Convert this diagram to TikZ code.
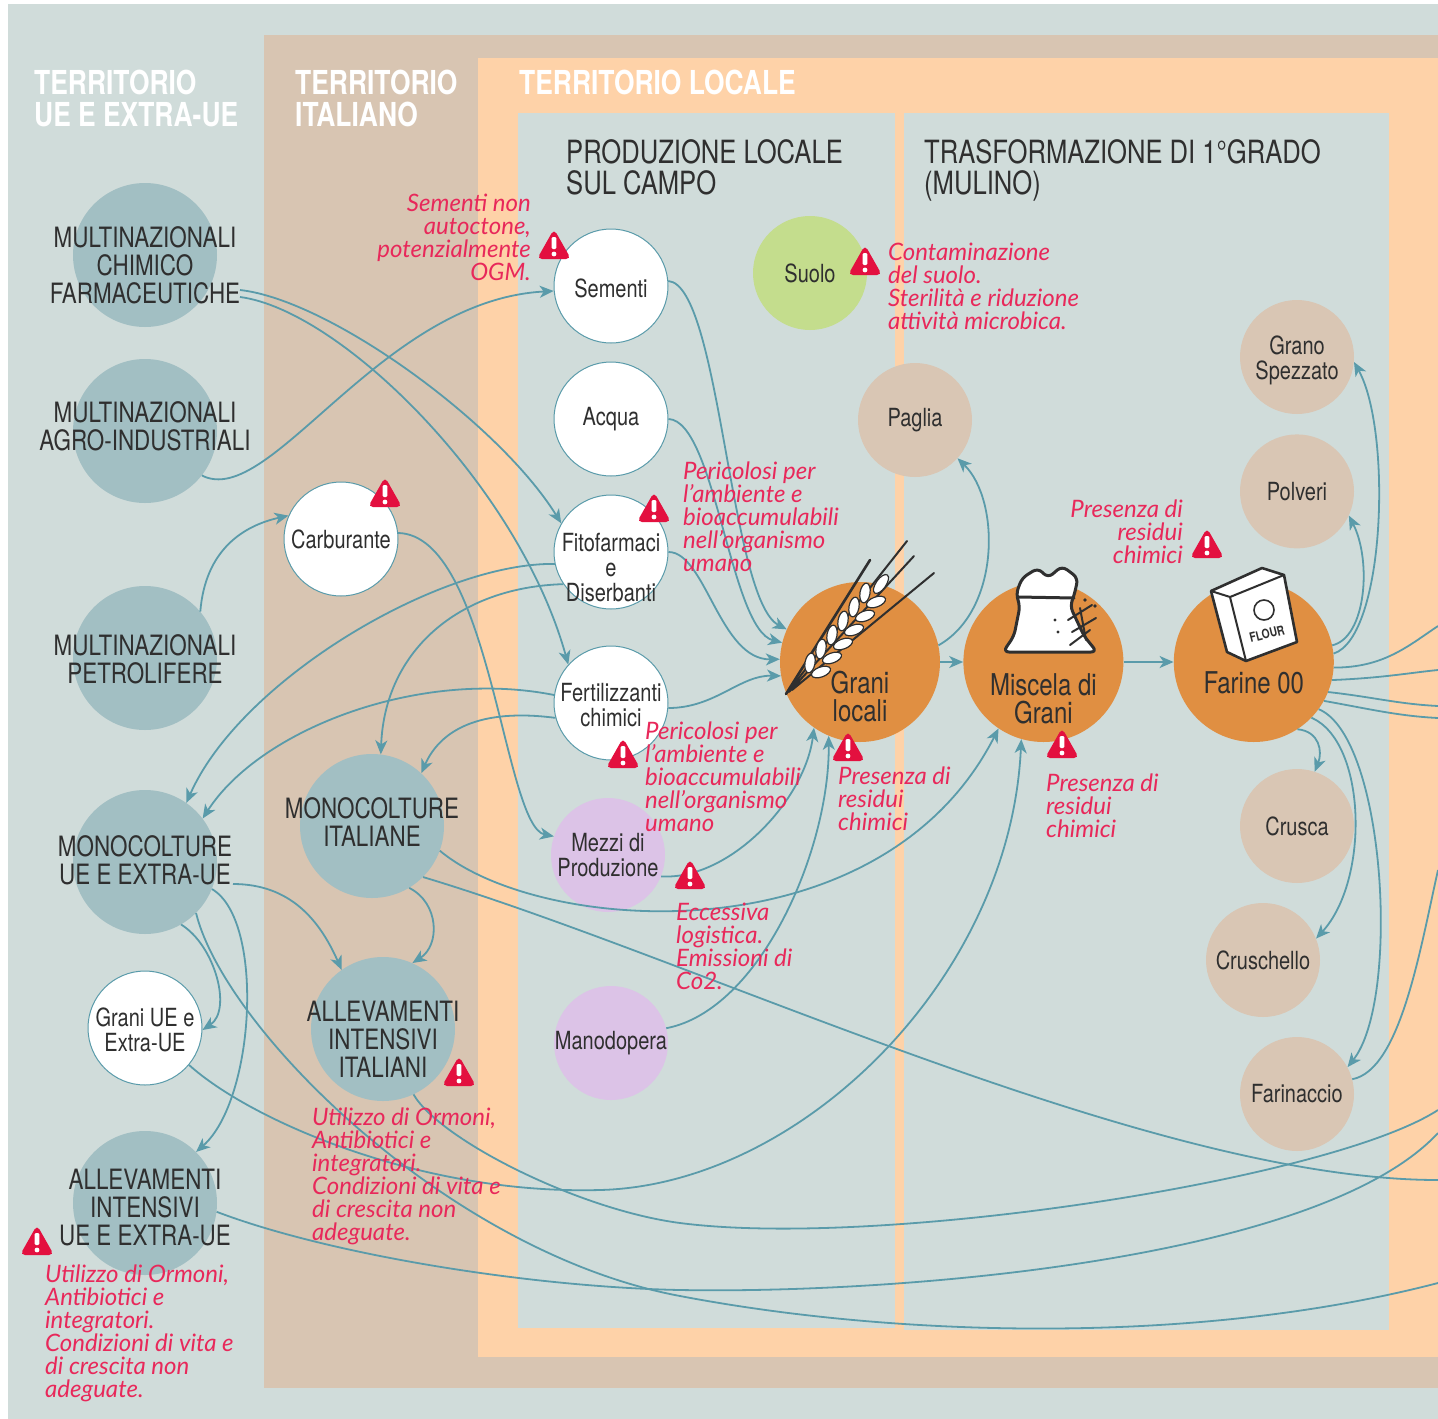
\documentclass[tikz,border=0pt]{standalone}
\usepackage{fontspec}
\usetikzlibrary{arrows.meta,positioning}
\newfontfamily\condfont{TeX Gyre Heros}[FakeStretch=0.8]
\newfontfamily\notefont{Lato}
\definecolor{paneblue}{HTML}{D0DCDA}
\definecolor{italytan}{HTML}{D8C5B2}
\definecolor{localpeach}{HTML}{FED2A8}
\definecolor{hubblue}{HTML}{A2BFC3}
\definecolor{inputpurple}{HTML}{DCC3E7}
\definecolor{soilgreen}{HTML}{C4DD8D}
\definecolor{bytan}{HTML}{D9C6B4}
\definecolor{mealorange}{HTML}{E08F42}
\definecolor{flowteal}{HTML}{5A9BAA}
\definecolor{alertred}{HTML}{E3103F}
\definecolor{notered}{HTML}{E8285A}
\definecolor{ink}{HTML}{2F2F2F}
\tikzset{
  warnsign/.pic={
    \fill[alertred, rounded corners=5pt] (-17,13) -- (0,-17) -- (17,13) -- cycle;
    \fill[white, rounded corners=1.2pt] (-2.3,-9) rectangle (2.3,3);
    \fill[white] (0,8) circle (2.4);
  }
}
\begin{document}
\begin{tikzpicture}[x=1pt, y=-1pt,
   disc/.style={circle, minimum size=114pt, inner sep=0pt},
   hub/.style={circle, minimum size=144pt, inner sep=0pt, fill=hubblue},
   meal/.style={circle, minimum size=160pt, inner sep=0pt, fill=mealorange},
   supply/.style={disc, fill=white, draw=flowteal, line width=1pt},
   labour/.style={disc, fill=inputpurple},
   byprod/.style={disc, fill=bytan},
   hubtxt/.style={font=\condfont\fontsize{28}{28}\selectfont, text=ink, align=center, inner sep=0pt},
   disctxt/.style={font=\condfont\fontsize{25}{25}\selectfont, text=ink, align=center, inner sep=0pt},
   mealtxt/.style={font=\condfont\fontsize{30}{28}\selectfont, text=ink, align=center, inner sep=0pt},
   zonetitle/.style={font=\condfont\bfseries\fontsize{33}{32}\selectfont, text=white, align=left,
      inner sep=0pt, anchor=north west},
   panetitle/.style={font=\condfont\fontsize{32}{31}\selectfont, text=ink, align=left,
      inner sep=0pt, anchor=north west},
   note/.style={font=\notefont\itshape\fontsize{24}{23}\selectfont, text=notered, align=left,
      inner sep=0pt, anchor=north west},
   flow/.style={draw=flowteal, line width=1.8pt, -{Stealth[length=14pt, width=12pt, inset=4pt]}},
   spill/.style={draw=flowteal, line width=1.8pt}
]
\fill[white] (0,0) rectangle (1438,1419);
\useasboundingbox (0,0) rectangle (1438,1419);

% territories
\fill[paneblue] (8,4) rectangle (1438,1419);
\fill[italytan] (264,35) rectangle (1438,1388);
\fill[localpeach] (478,58) rectangle (1438,1357);
\fill[paneblue] (518,113) rectangle (895,1328);
\fill[paneblue] (904,113) rectangle (1389,1330);

\node[zonetitle] (zoneworld) at (34,70) {TERRITORIO\\UE E EXTRA-UE};
\node[zonetitle] (zoneitaly) at (295,70) {TERRITORIO\\ITALIANO};
\node[zonetitle] (zonelocal) at (519,70) {TERRITORIO LOCALE};
\node[panetitle] (panefield) at (566,139) {PRODUZIONE LOCALE\\SUL CAMPO};
\node[panetitle] (panemill) at (924,139) {TRASFORMAZIONE DI 1°GRADO\\(MULINO)};

% outside actors
\node[hub, label={[hubtxt, yshift=-10pt]center:{MULTINAZIONALI\\CHIMICO\\FARMACEUTICHE}}]
   (chim) at (145,255) {};
\node[hub, label={[hubtxt, yshift=5pt]center:{MULTINAZIONALI\\AGRO-INDUSTRIALI}}]
   (agro) at (145,431) {};
\node[hub, label={[hubtxt, yshift=-1pt]center:{MULTINAZIONALI\\PETROLIFERE}}]
   (petro) at (145,658) {};
\node[hub, label={[hubtxt, yshift=2pt]center:{MONOCOLTURE\\UE E EXTRA-UE}}]
   (monoUE) at (145,862) {};
\node[supply, label={[disctxt, yshift=-2pt]center:{Grani UE e\\Extra-UE}}]
   (graniUE) at (145,1028) {};
\node[hub, label={[hubtxt, yshift=-5pt]center:{ALLEVAMENTI\\INTENSIVI\\UE E EXTRA-UE}}]
   (allevUE) at (145,1203) {};

\node[supply, label={[disctxt]center:Carburante}] (carb) at (341,539) {};
\node[hub, label={[hubtxt, yshift=4pt]center:{MONOCOLTURE\\ITALIANE}}]
   (monoIT) at (372,826) {};
\node[hub, label={[hubtxt, yshift=-10pt]center:{ALLEVAMENTI\\INTENSIVI\\ITALIANI}}]
   (allevIT) at (383,1029) {};

% field inputs
\node[supply, label={[disctxt, yshift=-2pt]center:Sementi}] (sem) at (611,286) {};
\node[supply, below=18pt of sem, label={[disctxt]center:Acqua}] (acq) {};
\node[supply, below=18pt of acq, label={[disctxt, yshift=-16pt]center:{Fitofarmaci\\e\\Diserbanti}}]
   (fito) {};
\node[supply, below=36pt of fito, label={[disctxt, yshift=-2pt]center:{Fertilizzanti\\chimici}}]
   (fert) {};
\node[labour, label={[disctxt]center:{Mezzi di\\Produzione}}] (mezzi) at (608,855) {};
\node[labour, label={[disctxt]center:Manodopera}] (mano) at (611,1043) {};
\node[disc, fill=soilgreen, label={[disctxt]center:Suolo}] (suolo) at (810,273) {};
\node[byprod, label={[disctxt]center:Paglia}] (paglia) at (915,420) {};

% grain chain
\node[meal, label={[mealtxt, yshift=-35pt]center:{Grani\\locali}}] (grani) at (860,662) {};
\node[meal, right=23pt of grani, label={[mealtxt, yshift=-37pt]center:{Miscela di\\Grani}}]
   (misc) {};
\node[meal, right=50pt of misc, label={[mealtxt, yshift=-21pt]center:{Farine 00}}] (farine) {};

% milling by-products
\node[byprod, label={[disctxt, yshift=-3pt]center:{Grano\\Spezzato}}] (spezz) at (1297,357) {};
\node[byprod, below=20pt of spezz, label={[disctxt]center:Polveri}] (polv) {};
\node[byprod, label={[disctxt]center:Crusca}] (crusca) at (1297,826) {};
\node[byprod, label={[disctxt]center:Cruschello}] (crusch) at (1263,960) {};
\node[byprod, label={[disctxt]center:Farinaccio}] (farinac) at (1297,1094) {};

% flows leaving the frame
\coordinate (exit1) at (1438,626);
\coordinate (exit2) at (1438,670);
\coordinate (exit3) at (1438,706);
\coordinate (exit4) at (1438,718);
\coordinate (exitF) at (1438,870);
\coordinate (exitA) at (1438,1110);
\coordinate (exitB) at (1438,1133);
\coordinate (exitM) at (1438,1180);
\coordinate (exitC) at (1438,1283);

% supply links
\draw[flow] ([shift={(95,35)}]chim.center) .. controls +(90,10) and +(-62,-100) .. (fito.150);
\draw[flow] ([shift={(95,42)}]chim.center) .. controls +(100,13) and +(-50,-180) .. (fert.138);
\draw[flow] (agro.-38) .. controls +(68,35) and +(-174,9) .. (sem.185);
\draw[flow] (petro.40) .. controls +(5,-62) and +(-45,10) .. (carb.156);
\draw[flow] (carb.6) .. controls +(92,2) and +(-50,-10) .. (mezzi.161);
\draw[flow] (fito.192) .. controls +(-115,-2) and +(54,-123) .. (monoUE.55);
\draw[flow] (fito.214) .. controls +(-104,3) and +(4,-104) .. (monoIT.83);
\draw[flow] (fert.172) .. controls +(-135,-27) and +(57,-89) .. (monoUE.37);
\draw[flow] (fert.195) .. controls +(-76,-10) and +(19,-43) .. (monoIT.47);
\draw[flow] ([shift={(88,22)}]monoUE.center) .. controls +(57,0) and +(-22,-50) .. (allevIT.125);
\draw[flow] (monoIT.-59) .. controls +(30,15) and +(28,-18) .. (allevIT.66);
\draw[flow] (monoUE.-60) .. controls +(34,21) and +(30,-20) .. (graniUE.-2);
\draw[flow] (monoUE.-22) .. controls +(53,31) and +(59,-52) .. (allevUE.45);
\draw[flow] (graniUE.-40) .. controls +(61,55) and +(-180,5) .. (600,1190)
   .. controls +(200,-5) and +(-11,240) .. (misc.-106);
\draw[flow] (monoIT.-20) .. controls +(100,84) and +(-118,231) .. (misc.-124);

% long runs to the right
\draw[spill] (monoUE.-45) .. controls +(29,117) and +(-230,-43) .. (680,1296)
   .. controls +(220,42) and +(-238,62) .. (exitC);
\draw[spill] (monoIT.-45) .. controls +(277,83) and +(-288,0) .. (exitM);
\draw[spill] (allevIT.-65) .. controls +(27,46) and +(-100,-13) .. (680,1223)
   .. controls +(200,26) and +(-108,70) .. (exitA);
\draw[spill] (allevUE.-7) .. controls +(113,43) and +(-150,-3) .. (680,1290)
   .. controls +(220,4) and +(-118,127) .. (exitB);

% into the field
\draw[flow] (sem.5) .. controls +(52,4) and +(-57,-30) .. (grani.156);
\draw[flow] (acq.0) .. controls +(47,2) and +(-52,-13) .. (grani.166);
\draw[flow] (fito.0) .. controls +(37,0) and +(-60,1) .. (grani.178);
\draw[flow] (fert.-5) .. controls +(47,0) and +(-41,-1) .. (grani.190);
\draw[flow] (mezzi.-22) .. controls +(69,4) and +(-9,72) .. (grani.-125);
\draw[flow] (mano.15) .. controls +(94,-18) and +(1,114) .. (grani.-113);
\draw[flow] (grani.12) .. controls +(62,-35) and +(43,42) .. (paglia.-42);
\draw[flow] (grani) -- (misc);
\draw[flow] (misc) -- (farine);

% out of the mill
\draw[flow] (farine.6) .. controls +(52,-17) and +(38,68) .. (spezz.-5);
\draw[flow] (farine.12) .. controls +(34,-8) and +(23,45) .. (polv.-25);
\draw[spill] (farine.-4) .. controls +(50,0) and +(-30,20) .. (exit1);
\draw[spill] (farine.-13) .. controls +(50,-2) and +(-30,3) .. (exit2);
\draw[spill] (farine.-22) .. controls +(45,5) and +(-40,-2) .. (exit3);
\draw[spill] (farine.-29) .. controls +(45,8) and +(-40,-2) .. (exit4);
\draw[flow] (farine.-36) .. controls +(67,28) and +(53,-67) .. (farinac.28);
\draw[flow] (farine.-44) .. controls +(55,24) and +(54,-59) .. (crusch.22);
\draw[flow] (farine.-57) .. controls +(22,2) and +(8,-20) .. (crusca.72);
\draw[spill] (farinac.15) .. controls +(48,-9) and +(-18,80) .. (exitF);

% ear of wheat
\draw[ink, line width=2.6pt, line cap=round] (786,694) -- (870,560);
\draw[ink, line width=2pt, line cap=round] (786,694) -- (907,541) (789,692) -- (914,556)
   (792,690) -- (934,573);
\foreach \gx/\gy in {815/668, 826/654, 837/640, 848/626, 859/612, 870/598}{
   \filldraw[fill=white, draw=ink, line width=1.2pt, rotate around={80:(\gx-5,\gy-5)}]
      (\gx-5,\gy-5) ellipse (10 and 5);
   \filldraw[fill=white, draw=ink, line width=1.2pt, rotate around={20:(\gx+6,\gy+4)}]
      (\gx+6,\gy+4) ellipse (10 and 5);
}
\filldraw[fill=white, draw=ink, line width=1.2pt, rotate around={55:(881,584)}]
   (881,584) ellipse (11 and 5);

% sack of blended grain
\filldraw[fill=white, draw=ink, line width=3pt, line join=round, rounded corners=6pt]
   (1003,652) -- (1014,636) -- (1020,606) -- (1016,594) -- (1022,578) -- (1038,568)
   -- (1048,578) -- (1062,566) -- (1078,578) -- (1074,596) -- (1070,606) -- (1084,636)
   -- (1097,652) -- cycle;
\draw[ink, line width=3pt, line cap=round] (1018,597) -- (1074,598);
\draw[ink, line width=2pt, line cap=round] (1068,620) -- (1092,605) (1072,632) -- (1096,618)
   (1080,608) -- (1086,640) (1070,645) -- (1090,630);
\fill[ink] (1085,600) circle (1.8) (1095,606) circle (1.8) (1055,620) circle (1.6)
   (1058,632) circle (1.6);

% bag of flour
\filldraw[fill=white, draw=ink, line width=2.6pt, line join=round] (1211,591) -- (1262,568)
   -- (1284,575) -- (1297,642) -- (1246,661) -- (1227,652) -- cycle;
\draw[ink, line width=2pt, line join=round] (1211,591) -- (1230,597) -- (1284,575)
   (1230,597) -- (1246,661);
\draw[ink, line width=1.6pt] (1264,610) circle (10);
\node[font=\condfont\bfseries\fontsize{13}{13}\selectfont, text=ink, rotate=14, inner sep=0pt]
   (flourtag) at (1267,634) {FLOUR};

% hazards
\pic at (554,246) {warnsign};
\pic at (865,262) {warnsign};
\pic at (385,494) {warnsign};
\pic at (654,509) {warnsign};
\pic at (623,755) {warnsign};
\pic at (690,876) {warnsign};
\pic at (848,748) {warnsign};
\pic at (1062,745) {warnsign};
\pic at (1207,545) {warnsign};
\pic at (459,1073) {warnsign};
\pic at (37,1242) {warnsign};

\node[note, anchor=north east, align=right] (noteSem) at (531,194)
   {Sementi non\\autoctone,\\potenzialmente\\OGM.};
\node[note] (noteSuolo) at (888,243)
   {Contaminazione\\del suolo.\\Sterilità e riduzione\\attività microbica.};
\node[note] (noteFito) at (683,462)
   {Pericolosi per\\l’ambiente e\\bioaccumulabili\\nell’organismo\\umano};
\node[note] (noteFert) at (645,722)
   {Pericolosi per\\l’ambiente e\\bioaccumulabili\\nell’organismo\\umano};
\node[note, anchor=north east, align=right] (noteFar) at (1183,500)
   {Presenza di\\residui\\chimici};
\node[note] (noteGrani) at (838,767) {Presenza di\\residui\\chimici};
\node[note] (noteMisc) at (1046,774) {Presenza di\\residui\\chimici};
\node[note] (noteMezzi) at (676,903) {Eccessiva\\logistica.\\Emissioni di\\Co2.};
\node[note] (noteAllIT) at (312,1108)
   {Utilizzo di Ormoni,\\Antibiotici e\\integratori.\\Condizioni di vita e\\di crescita non\\adeguate.};
\node[note] (noteAllUE) at (45,1265)
   {Utilizzo di Ormoni,\\Antibiotici e\\integratori.\\Condizioni di vita e\\di crescita non\\adeguate.};
\end{tikzpicture}
\end{document}
